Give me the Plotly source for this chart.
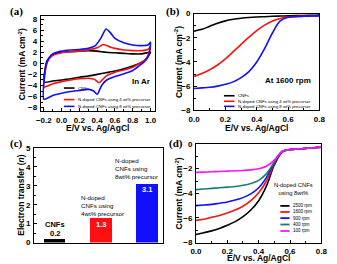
import plotly.graph_objects as go

W, H = 337, 264

# ---------------- Data ----------------
# (a) Cyclic voltammograms in Ar
cv_names = ["CNFs", "N-doped CNFs using 4 wt% precursor", "N-doped CNFs using 8 wt% precursor"]
cv_cnf_E = [1.0, 0.97, 0.93, 0.9, 0.8, 0.7, 0.6, 0.5, 0.4, 0.3, 0.2, 0.1, 0.0, -0.1, -0.2,
            -0.19, -0.17, -0.14, -0.1, 0.0, 0.1, 0.2, 0.3, 0.4, 0.5, 0.6, 0.7, 0.8, 0.9, 1.0]
cv_cnf_I = [2.0, 1.2, 0.5, 0.2, -0.5, -1.0, -1.4, -1.7, -2.0, -2.3, -2.5, -2.8, -3.0, -3.2, -3.4,
            -1.5, 0.2, 1.0, 1.6, 2.0, 2.1, 2.2, 2.3, 2.2, 2.0, 1.9, 1.8, 1.7, 1.7, 2.0]
cv_4wt_E = [1.0, 0.98, 0.95, 0.9, 0.8, 0.7, 0.6, 0.5, 0.42, 0.37, 0.3, 0.2, 0.1, 0.0, -0.1, -0.2,
            -0.19, -0.17, -0.14, -0.1, 0.0, 0.1, 0.2, 0.3, 0.4, 0.47, 0.55, 0.6, 0.7, 0.8, 0.9, 0.97, 1.0]
cv_4wt_I = [3.0, 1.8, 0.8, 0.2, -0.7, -1.2, -1.6, -2.3, -3.5, -2.9, -2.7, -2.8, -3.0, -3.3, -3.7, -4.3,
            -2.0, -0.3, 0.8, 1.4, 1.9, 2.1, 2.2, 2.4, 2.8, 3.4, 2.9, 2.7, 2.4, 2.3, 2.3, 2.5, 3.0]
cv_8wt_E = [1.0, 0.98, 0.95, 0.9, 0.8, 0.7, 0.6, 0.5, 0.45, 0.4, 0.36, 0.3, 0.2, 0.1, 0.0, -0.1, -0.2,
            -0.19, -0.17, -0.14, -0.1, 0.0, 0.1, 0.2, 0.3, 0.38, 0.44, 0.5, 0.55, 0.6, 0.7, 0.8, 0.9, 0.97, 1.0]
cv_8wt_I = [3.8, 1.5, 0.6, -0.1, -1.3, -1.9, -2.4, -3.1, -4.0, -5.6, -5.0, -4.7, -4.9, -5.1, -5.4, -5.8, -6.5,
            -2.0, 0.0, 1.0, 1.7, 2.2, 2.4, 2.5, 2.7, 3.2, 4.5, 6.2, 5.5, 4.5, 3.7, 3.3, 3.2, 3.3, 3.8]

# (b) LSV at 1600 rpm
lsv_E = [0.0, 0.05, 0.1, 0.15, 0.2, 0.25, 0.3, 0.35, 0.4, 0.45, 0.5, 0.55, 0.6, 0.65, 0.7, 0.75, 0.8]
lsv_cnf = [-1.45, -1.3, -1.05, -0.8, -0.6, -0.47, -0.38, -0.32, -0.28, -0.25, -0.22, -0.2, -0.18, -0.16, -0.15, -0.14, -0.12]
lsv_4wt = [-5.2, -4.95, -4.65, -4.25, -3.75, -3.15, -2.55, -1.95, -1.4, -0.95, -0.6, -0.4, -0.28, -0.24, -0.22, -0.2, -0.18]
lsv_8wt = [-6.2, -6.15, -6.1, -6.0, -5.85, -5.65, -5.3, -4.8, -4.0, -2.9, -1.6, -0.6, -0.3, -0.25, -0.22, -0.2, -0.18]

# (c) Electron transfer number
bar_x = [0, 1, 2]
bar_n = [0.2, 1.3, 3.1]
bar_labels = ["0.2", "1.3", "3.1"]

# (d) LSV at different rotation rates (8 wt%)
rpm_names = ["2500 rpm", "1600 rpm", "900 rpm", "400 rpm", "100 rpm"]
rpm_E = [0.0, 0.05, 0.1, 0.15, 0.2, 0.25, 0.3, 0.35, 0.4, 0.45, 0.5, 0.55, 0.6, 0.65, 0.7, 0.75, 0.8]
rpm_2500 = [-7.35, -7.2, -7.05, -6.85, -6.6, -6.3, -5.9, -5.35, -4.6, -3.4, -1.7, -0.65, -0.45, -0.4, -0.35, -0.3, -0.25]
rpm_1600 = [-6.2, -6.1, -5.95, -5.8, -5.6, -5.35, -5.05, -4.6, -3.95, -3.0, -1.6, -0.6, -0.45, -0.4, -0.35, -0.3, -0.25]
rpm_900 = [-5.0, -4.95, -4.9, -4.8, -4.7, -4.55, -4.35, -4.05, -3.55, -2.7, -1.5, -0.6, -0.45, -0.4, -0.35, -0.3, -0.25]
rpm_400 = [-3.7, -3.65, -3.6, -3.55, -3.5, -3.45, -3.35, -3.2, -2.95, -2.4, -1.45, -0.6, -0.45, -0.4, -0.35, -0.3, -0.25]
rpm_100 = [-2.3, -2.28, -2.25, -2.23, -2.2, -2.17, -2.15, -2.1, -2.0, -1.8, -1.3, -0.6, -0.45, -0.4, -0.35, -0.3, -0.25]

# ---------------- Styling ----------------
C3 = ["#000000", "#ff1010", "#1010ff"]
C5 = ["#000000", "#ff1010", "#1010ff", "#1b7d72", "#ff10ff"]
FONT = "Liberation Sans"
tickfont = dict(family=FONT, size=8, color="black", weight="bold")
LW = 1.6


def px(x, y):
    return x / W, 1 - y / H


fig = go.Figure()

# (a)
for E, I, c, n in zip([cv_cnf_E, cv_4wt_E, cv_8wt_E], [cv_cnf_I, cv_4wt_I, cv_8wt_I], C3, cv_names):
    fig.add_trace(go.Scatter(x=E, y=I, mode="lines", name=n, line=dict(color=c, width=LW, shape="spline", smoothing=0.6),
                             xaxis="x", yaxis="y", showlegend=False))
# (b)
for I, c, n in zip([lsv_cnf, lsv_4wt, lsv_8wt], C3, cv_names):
    fig.add_trace(go.Scatter(x=lsv_E, y=I, mode="lines", name=n, line=dict(color=c, width=LW, shape="spline"),
                             xaxis="x2", yaxis="y2", showlegend=False))
# (c)
fig.add_trace(go.Bar(x=bar_x, y=bar_n, width=0.46, marker=dict(color=C3, line=dict(width=0)),
                     xaxis="x3", yaxis="y3", showlegend=False))
# (d)
for I, c, n in zip([rpm_2500, rpm_1600, rpm_900, rpm_400, rpm_100], C5, rpm_names):
    fig.add_trace(go.Scatter(x=rpm_E, y=I, mode="lines", name=n, line=dict(color=c, width=LW, shape="spline"),
                             xaxis="x4", yaxis="y4", showlegend=False))


def ax(domain, rng, dtick=None, anchor=None, showticklabels=True, fmt=None):
    d = dict(domain=domain, range=rng, showline=True, linecolor="black", linewidth=1, mirror=True,
             ticks="inside" if showticklabels else "", ticklen=3, tickcolor="black", tickwidth=1,
             showgrid=False, zeroline=False, tickfont=tickfont, anchor=anchor,
             showticklabels=showticklabels, ticklabelstandoff=1)
    if fmt:
        d["tickformat"] = fmt
    if dtick is not None:
        d["dtick"] = dtick
        d["tick0"] = 0
        d["minor"] = dict(dtick=dtick / 2, ticks="inside", ticklen=2, tickcolor="black", tickwidth=1)
    return d


def dom_x(a, b):
    return [a / W, b / W]


def dom_y(top, bottom):
    return [1 - bottom / H, 1 - top / H]


fig.update_layout(
    width=W, height=H, margin=dict(l=0, r=0, t=0, b=0),
    paper_bgcolor="white", plot_bgcolor="white",
    xaxis=ax(dom_x(36, 154), [-0.235, 1.045], 0.2, "y", fmt=".1f"),
    yaxis=ax(dom_y(12.7, 111), [-8.65, 8.5], 2, "x"),
    xaxis2=ax(dom_x(195, 325), [0, 0.8], 0.2, "y2", fmt=".1f"),
    yaxis2=ax(dom_y(10, 110), [-8, 0], 2, "x2"),
    xaxis3=ax(dom_x(29, 163), [-0.45, 2.35], None, "y3", showticklabels=False),
    yaxis3=ax(dom_y(149, 247), [0, 5], 1, "x3"),
    xaxis4=ax(dom_x(197, 327), [0, 0.8], 0.2, "y4", fmt=".1f"),
    yaxis4=ax(dom_y(145, 247), [-8, 0], 2, "x4"),
    bargap=0,
)

ann = []
shapes = []


def text(x, y, s, size=8, bold=True, angle=0, color="black", xanchor="center", family=FONT, align="center"):
    xp, yp = px(x, y)
    ann.append(dict(x=xp, y=yp, xref="paper", yref="paper", text=s, showarrow=False, textangle=angle,
                    xanchor=xanchor, yanchor="middle", align=align,
                    font=dict(family=family, size=size, color=color, weight="bold" if bold else "normal")))


# panel labels
for lbl, x, y in [("(a)", 11, 8), ("(b)", 173, 8), ("(c)", 11, 144), ("(d)", 176, 144)]:
    text(x, y, lbl, size=11, family="Liberation Serif")

# axis titles
ytitle = "Current (mA cm<sup>-2</sup>)"
text(17, 62, ytitle, size=8.5, angle=-90)
text(179.5, 60, ytitle, size=8.5, angle=-90)
text(179.5, 196, ytitle, size=8.5, angle=-90)
text(16, 198, "Electron transfer (<i>n</i>)", size=8.5, angle=-90)
xtitle = "E/V vs. Ag/AgCl"
text(95, 128, xtitle, size=8.5)
text(260, 128, xtitle, size=8.5)
text(262, 263, xtitle, size=8.5)

# in-plot labels
text(140, 80, "In Ar", size=8)
text(292, 79, "At 1600 rpm", size=8)

# (a) / (b) legends
for (x0, ys) in [(60, [87, 99, 106]), (226, [95, 100.7, 106])]:
    for yy, c, n in zip(ys, C3, cv_names):
        x1p, y1p = px(x0, yy)
        x2p, _ = px(x0 + 11, yy)
        shapes.append(dict(type="line", xref="paper", yref="paper", x0=x1p, x1=x2p, y0=y1p, y1=y1p,
                           line=dict(color=c, width=1.6)))
        text(x0 + 12.5, yy, n, size=4.3, bold=False, xanchor="left")

# (c) bar annotations
text(50.5, 228, "CNFs", size=7.5)
text(50.5, 237.5, bar_labels[0], size=7.5)
text(98, 228.5, bar_labels[1], size=7.5, color="white")
text(146, 192.5, bar_labels[2], size=7.5, color="white")
text(76, 208.5, "N-doped<br>CNFs using<br>4wt% precursor", size=6.2, xanchor="left", align="left", bold=False)
text(110.5, 170.5, "N-doped<br>CNFs using<br>8wt% precursor", size=6.2, xanchor="left", align="left", bold=False)

# (d) legend
text(298, 192, "N-doped CNFs<br>using 8wt%", size=5.8, bold=False)
for yy, c, n in zip([209, 215.3, 221.7, 228.3, 235], C5, rpm_names):
    x1p, y1p = px(284.5, yy)
    x2p, _ = px(294, yy)
    shapes.append(dict(type="line", xref="paper", yref="paper", x0=x1p, x1=x2p, y0=y1p, y1=y1p,
                       line=dict(color=c, width=1.8)))
    text(295.5, yy, n, size=4.5, bold=False, xanchor="left")

fig.update_layout(annotations=ann, shapes=shapes)
fig.write_html("out.html")
